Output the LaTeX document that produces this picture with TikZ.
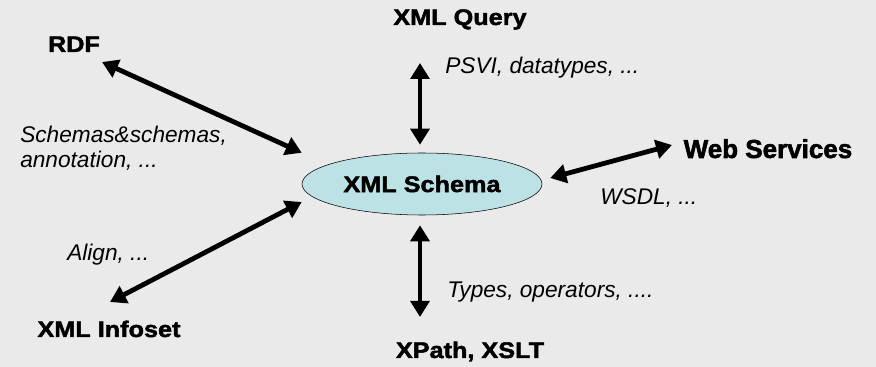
\documentclass[tikz,border=0pt]{standalone}
\usepackage{fontspec}
\setmainfont{Liberation Sans}
\newfontfamily\heavyfont{Liberation Sans Bold}[FakeBold=2,FakeStretch=1.12]
\newfontfamily\webfont{Liberation Sans Bold}[FakeBold=2]
\usetikzlibrary{positioning, shapes.geometric, arrows.meta, calc}
\definecolor{bggray}{RGB}{234,234,234}
\definecolor{schemacyan}{RGB}{188,226,229}
\newcommand{\fillcolor}{schemacyan}
\newcommand{\bgcolor}{bggray}
\tikzset{
	twoway/.style={line width=3.6pt, {Triangle[length=12pt,width=14pt]}-{Triangle[length=12pt,width=14pt]}},
	lab/.style={font=\heavyfont\fontsize{16.9}{20}\selectfont, inner sep=0, anchor=base},
	note/.style={font=\itshape\fontsize{17}{18.75}\selectfont, inner sep=0, anchor=base west, align=left},
}

\begin{document}
\begin{tikzpicture}[x=0.75pt,y=-0.75pt]
	% background
	\fill[\bgcolor] (0,0) rectangle (876,367);

	% centre
	\node [ellipse, draw, thin, fill=\fillcolor, minimum width=180pt, minimum height=46.5pt, inner sep=0, font=\heavyfont\fontsize{16.9}{20}\selectfont] at (422,184) (schema) {XML Schema};

	% outer labels
	\node [lab] at (74,52) (rdf) {RDF};
	\node [lab] at (460,25) (query) {XML Query};
	\node [lab, font=\webfont\fontsize{19.5}{22}\selectfont] at (768,158) (web) {Web Services};
	\node [lab] at (109,337) (infoset) {XML Infoset};
	\node [lab] at (470,358) (xpath) {XPath, XSLT};

	% notes
	\node [note] at (445,74) (psvi) {PSVI, datatypes, ...};
	\node [note] at (20,168) (annot) {Schemas\&schemas,\\annotation, ...};
	\node [note] at (600,205) (wsdl) {WSDL, ...};
	\node [note] at (67,261) (align) {Align, ...};
	\node [note] at (447,298) (types) {Types, operators, ....};

	% arrows
	\draw [twoway] ($(rdf.base)+(28,10)$) -- (schema.west |- schema.north);
	\draw [twoway] ($(query.base)+(-40,38)$) -- ($(schema.north)+(-2,-8)$);
	\draw [twoway] ($(web.base)+(-96,-13)$) -- ($(schema.east)+(8,-6)$);
	\draw [twoway] ($(infoset.base)+(1,-35)$) -- ($(schema.west)+(0,18)$);
	\draw [twoway] ($(xpath.base)+(-50,-41)$) -- ($(schema.south)+(-2,10)$);
	%\draw [twoway] (schema) -- (xpath);
\end{tikzpicture}
\end{document}
